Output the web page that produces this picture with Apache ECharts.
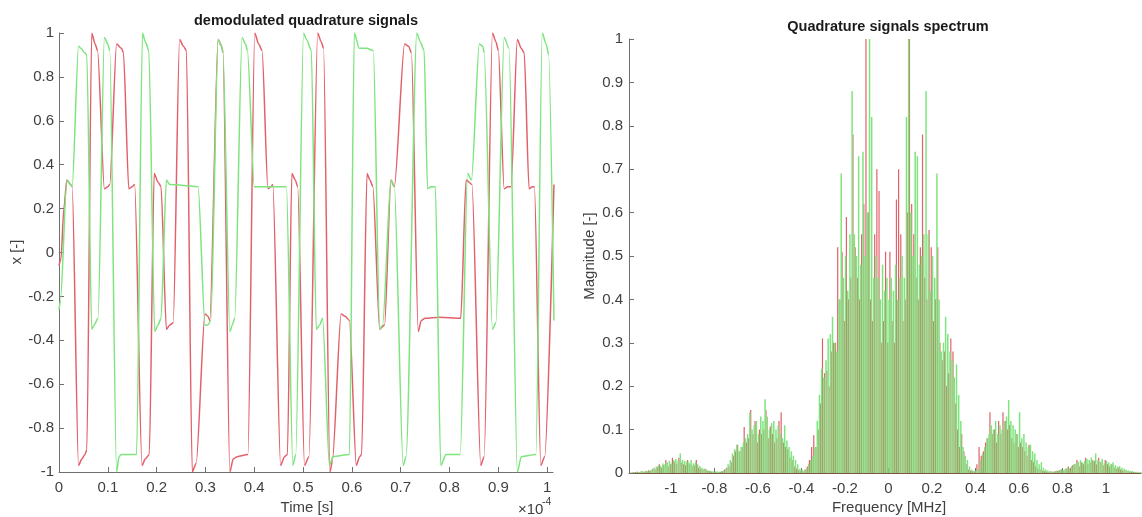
<!DOCTYPE html>
<html><head><meta charset="utf-8">
<script src="https://cdn.jsdelivr.net/npm/echarts@6/dist/echarts.min.js"></script>
<style>html,body{margin:0;padding:0;background:#fff}#c{width:1142px;height:517px}</style>
</head><body><div id="c"></div>
<script>
// ---------- Left chart: demodulated quadrature signals (time in units of 1e-4 s) ----------
const timeTicks = [0,0.1,0.2,0.3,0.4,0.5,0.6,0.7,0.8,0.9,1];
const ampTicks = [-1,-0.8,-0.6,-0.4,-0.2,0,0.2,0.4,0.6,0.8,1];

const redSignal = [
 [0.000,-0.06],[0.004,-0.03],[0.010,0.20],[0.016,0.33],[0.024,0.31],[0.027,0.30],
 [0.040,-0.97],[0.047,-0.94],[0.053,-0.92],[0.057,-0.90],
 [0.067,1.00],[0.074,0.95],[0.079,0.92],
 [0.093,0.29],[0.100,0.30],[0.104,0.31],
 [0.118,0.95],[0.128,0.93],[0.132,0.91],
 [0.143,0.29],[0.150,0.30],[0.155,0.31],
 [0.170,-0.97],[0.177,-0.94],[0.185,-0.92],
 [0.195,0.36],[0.203,0.32],[0.209,0.30],
 [0.220,-0.35],[0.227,-0.33],[0.234,-0.32],
 [0.247,0.97],[0.255,0.94],[0.261,0.92],
 [0.273,-1.00],[0.281,-0.96],
 [0.299,-0.28],[0.305,-0.29],[0.309,-0.31],
 [0.326,0.97],[0.333,0.94],[0.336,0.91],
 [0.350,-1.00],[0.357,-0.94],[0.365,-0.93],[0.387,-0.92],
 [0.401,1.00],[0.409,0.95],[0.416,0.92],
 [0.428,0.29],[0.434,0.30],[0.438,0.31],
 [0.454,-0.97],[0.462,-0.93],[0.468,-0.92],
 [0.477,0.36],[0.484,0.33],[0.489,0.30],
 [0.503,-0.97],[0.512,-0.93],
 [0.530,1.00],[0.537,0.96],[0.542,0.93],
 [0.555,-1.00],[0.560,-0.95],
 [0.578,-0.28],[0.586,-0.29],[0.595,-0.31],
 [0.609,-0.97],[0.616,-0.93],[0.620,-0.92],
 [0.631,0.36],[0.637,0.33],[0.643,0.30],
 [0.657,-0.35],[0.667,-0.33],
 [0.680,0.33],[0.687,0.30],
 [0.708,0.95],[0.716,0.94],[0.722,0.91],
 [0.736,-0.36],[0.742,-0.31],[0.750,-0.30],[0.780,-0.295],[0.823,-0.30],
 [0.834,0.33],[0.846,0.31],
 [0.864,-0.97],[0.871,-0.93],
 [0.888,1.00],[0.895,0.96],[0.900,0.92],
 [0.912,0.29],[0.919,0.30],[0.926,0.30],
 [0.939,0.97],[0.947,0.93],[0.953,0.91],
 [0.963,0.29],[0.970,0.30],[0.974,0.30],
 [0.987,-0.97],[0.995,-0.93],
 [1.014,0.31]
];

const greenSignal = [
 [0.000,-0.26],[0.003,-0.22],[0.016,0.33],[0.024,0.31],[0.027,0.30],
 [0.040,0.94],[0.045,0.93],[0.053,0.91],[0.057,0.90],
 [0.067,-0.35],[0.072,-0.33],[0.080,-0.30],
 [0.093,0.98],[0.100,0.95],[0.104,0.92],
 [0.118,-1.00],[0.123,-0.93],[0.128,-0.92],[0.159,-0.92],
 [0.171,1.00],[0.177,0.96],[0.184,0.92],
 [0.196,-0.36],[0.203,-0.33],[0.209,-0.30],
 [0.220,0.33],[0.227,0.31],[0.285,0.30],
 [0.299,-0.33],[0.305,-0.33],[0.311,-0.31],
 [0.326,0.97],[0.333,0.94],[0.336,0.91],
 [0.350,-0.36],[0.355,-0.33],[0.360,-0.30],
 [0.375,0.98],[0.382,0.95],[0.386,0.92],
 [0.400,0.30],[0.466,0.30],
 [0.479,-0.97],[0.485,-0.92],
 [0.501,1.00],[0.507,0.97],[0.517,0.92],
 [0.527,-0.35],[0.534,-0.33],[0.540,-0.30],
 [0.554,-0.97],[0.561,-0.93],[0.595,-0.92],
 [0.605,1.00],[0.615,0.93],[0.630,0.93],[0.644,0.92],
 [0.657,-0.35],[0.663,-0.33],
 [0.680,0.33],[0.687,0.30],
 [0.705,-0.97],[0.711,-0.93],
 [0.733,1.00],[0.740,0.96],[0.748,0.92],
 [0.755,0.29],[0.762,0.30],[0.771,0.30],
 [0.782,-0.97],[0.793,-0.92],[0.822,-0.92],
 [0.837,0.36],[0.845,0.33],
 [0.861,0.95],[0.868,0.94],[0.871,0.91],
 [0.888,-0.35],[0.895,-0.32],
 [0.912,0.98],[0.922,0.93],
 [0.939,-1.00],[0.947,-0.93],[0.977,-0.92],
 [0.990,1.00],[0.998,0.95],[1.003,0.90],
 [1.014,-0.31]
];

// ---------- Right chart: spectrum (bins from -1.18 MHz, step 0.01 MHz) ----------
const freqTicks = [-1,-0.8,-0.6,-0.4,-0.2,0,0.2,0.4,0.6,0.8,1];
const magTicks = [0,0.1,0.2,0.3,0.4,0.5,0.6,0.7,0.8,0.9,1];
const firstBinMHz = -1.18;
const binStepMHz = 0.01;

const greenMag = [
 0.002,0.002,0.003,0.002,0.004,0.003,0.005,0.004,0.006,0.008,
 0.012,0.015,0.018,0.016,0.022,0.020,0.025,0.028,0.022,0.030,
 0.032,0.028,0.045,0.030,0.028,0.026,0.024,0.030,0.022,0.025,
 0.020,0.016,0.012,0.010,0.008,0.006,0.005,0.004,0.003,0.004,
 0.003,0.004,0.006,0.010,0.020,0.030,0.045,0.055,0.065,0.050,
 0.060,0.070,0.080,0.090,0.140,0.100,0.110,0.120,0.090,0.130,
 0.120,0.170,0.130,0.100,0.115,0.120,0.100,0.110,0.090,0.080,
 0.110,0.075,0.060,0.050,0.040,0.030,0.020,0.010,0.008,0.006,
 0.010,0.020,0.030,0.040,0.060,0.120,0.180,0.240,0.220,0.260,
 0.310,0.320,0.360,0.300,0.280,0.400,0.690,0.450,0.500,0.420,
 0.550,0.880,0.550,0.500,0.730,0.480,0.740,0.500,0.600,1.000,
 0.820,0.450,0.500,0.450,0.400,0.480,0.420,0.450,0.400,0.450,
 0.420,0.480,0.400,0.450,0.500,0.450,0.820,1.000,0.600,0.500,
 0.740,0.730,0.480,0.500,0.550,0.880,0.550,0.420,0.500,0.450,
 0.690,0.400,0.280,0.300,0.360,0.320,0.280,0.260,0.220,0.250,
 0.180,0.120,0.060,0.040,0.030,0.015,0.008,0.005,0.006,0.010,
 0.030,0.045,0.060,0.080,0.090,0.110,0.100,0.120,0.090,0.110,
 0.100,0.120,0.130,0.168,0.120,0.110,0.100,0.090,0.140,0.080,
 0.090,0.070,0.060,0.065,0.050,0.045,0.030,0.020,0.025,0.012,
 0.008,0.006,0.004,0.003,0.004,0.005,0.006,0.008,0.006,0.010,
 0.012,0.010,0.016,0.020,0.022,0.026,0.030,0.024,0.028,0.032,
 0.030,0.036,0.028,0.045,0.030,0.026,0.032,0.022,0.028,0.024,
 0.020,0.025,0.018,0.015,0.016,0.012,0.010,0.008,0.006,0.005,
 0.004,0.003,0.003,0.002,0.002
];

const redMag = [
 0.001,0.002,0.002,0.003,0.002,0.004,0.003,0.004,0.006,0.005,
 0.010,0.008,0.014,0.020,0.012,0.018,0.030,0.015,0.020,0.035,
 0.025,0.020,0.035,0.024,0.020,0.018,0.030,0.020,0.015,0.018,
 0.030,0.012,0.010,0.008,0.010,0.005,0.004,0.003,0.002,0.003,
 0.002,0.003,0.004,0.008,0.012,0.015,0.025,0.040,0.050,0.065,
 0.050,0.060,0.106,0.070,0.080,0.145,0.090,0.120,0.070,0.100,
 0.090,0.100,0.145,0.080,0.107,0.090,0.070,0.080,0.120,0.140,
 0.070,0.060,0.055,0.035,0.030,0.015,0.010,0.006,0.005,0.004,
 0.008,0.015,0.030,0.060,0.087,0.060,0.100,0.160,0.310,0.230,
 0.235,0.200,0.280,0.300,0.300,0.520,0.400,0.510,0.350,0.590,
 0.400,0.450,0.780,0.520,0.450,0.400,0.550,0.620,1.000,0.600,
 0.400,0.350,0.550,0.700,0.650,0.300,0.350,0.510,0.300,0.510,
 0.350,0.300,0.630,0.700,0.550,0.350,0.400,0.600,1.000,0.620,
 0.550,0.450,0.400,0.520,0.780,0.450,0.400,0.560,0.520,0.350,
 0.400,0.520,0.300,0.260,0.280,0.200,0.230,0.310,0.280,0.160,
 0.100,0.060,0.090,0.050,0.020,0.008,0.005,0.004,0.003,0.020,
 0.060,0.040,0.050,0.070,0.080,0.140,0.090,0.100,0.070,0.120,
 0.090,0.140,0.120,0.100,0.110,0.080,0.070,0.090,0.060,0.070,
 0.060,0.050,0.040,0.065,0.030,0.025,0.015,0.010,0.008,0.006,
 0.004,0.003,0.002,0.004,0.003,0.004,0.005,0.006,0.008,0.006,
 0.010,0.015,0.012,0.018,0.020,0.030,0.015,0.025,0.020,0.035,
 0.020,0.025,0.030,0.028,0.020,0.035,0.025,0.018,0.030,0.020,
 0.015,0.020,0.012,0.010,0.012,0.008,0.006,0.005,0.004,0.003,
 0.003,0.002,0.002,0.001,0.001
];

// ---------- build ----------
const freqMHz = greenMag.map((_, i) => +(firstBinMHz + i * binStepMHz).toFixed(3));
const redPairs = redMag.map((v, i) => [freqMHz[i], v]);
const greenPairs = greenMag.map((v, i) => [freqMHz[i], v]);

const FONT = "'Liberation Sans', Arial, sans-serif";
const AXIS_COLOR = '#707070';
const LABEL_COLOR = '#404040';
const RED = '#e2606a';
const GREEN = '#7ee47e';
const fmt1 = v => { const r = Math.round(v * 10) / 10; return Math.abs(r - v) < 1e-6 ? String(r) : ''; };

const axisCommon = (ticks, margin) => ({
  axisLine: { show: true, onZero: false, lineStyle: { color: AXIS_COLOR, width: 1 } },
  axisTick: { show: true, inside: true, length: 5, customValues: ticks, lineStyle: { color: AXIS_COLOR } },
  axisLabel: { customValues: ticks, formatter: fmt1, fontSize: 15, fontFamily: FONT, color: LABEL_COLOR, margin: margin },
  splitLine: { show: false }
});

const chart = echarts.init(document.getElementById('c'), null, { renderer: 'canvas' });
chart.setOption({
  backgroundColor: '#ffffff',
  animation: false,
  grid: [
    { left: 59, top: 33, width: 494, height: 439 },
    { left: 629, top: 39, width: 512, height: 434 }
  ],
  xAxis: [
    Object.assign({ gridIndex: 0, type: 'value', min: 0, max: 1.012 }, axisCommon(timeTicks, 8)),
    Object.assign({ gridIndex: 1, type: 'value', min: -1.193, max: 1.161 }, axisCommon(freqTicks, 8),
      { axisLine: { show: true, onZero: false, lineStyle: { color: '#7a5448', width: 1 } } })
  ],
  yAxis: [
    Object.assign({ gridIndex: 0, type: 'value', min: -1, max: 1, interval: 0.2 }, axisCommon(ampTicks, 5)),
    Object.assign({ gridIndex: 1, type: 'value', min: 0, max: 1, interval: 0.1 }, axisCommon(magTicks, 6))
  ],
  series: [
    { type: 'line', xAxisIndex: 0, yAxisIndex: 0, data: redSignal, showSymbol: false, symbol: 'none',
      smooth: 0.25, smoothMonotone: 'x', lineStyle: { color: RED, width: 1.5 }, clip: true },
    { type: 'line', xAxisIndex: 0, yAxisIndex: 0, data: greenSignal, showSymbol: false, symbol: 'none',
      smooth: 0.25, smoothMonotone: 'x', lineStyle: { color: GREEN, width: 1.5 }, clip: true },
    { type: 'bar', xAxisIndex: 1, yAxisIndex: 1, data: redPairs, barWidth: 1.2, barGap: '0%',
      itemStyle: { color: RED } },
    { type: 'bar', xAxisIndex: 1, yAxisIndex: 1, data: greenPairs, barWidth: 1.5, barGap: '0%',
      itemStyle: { color: GREEN } }
  ],
  graphic: [
    { type: 'text', x: 306, y: 21, style: { text: 'demodulated quadrature signals', fontSize: 14.5, fontWeight: 'bold', fontFamily: FONT, fill: '#1a1a1a', textAlign: 'center', textVerticalAlign: 'middle', verticalAlign: 'middle' } },
    { type: 'text', x: 888, y: 27, style: { text: 'Quadrature signals spectrum', fontSize: 14.5, fontWeight: 'bold', fontFamily: FONT, fill: '#1a1a1a', textAlign: 'center', textVerticalAlign: 'middle', verticalAlign: 'middle' } },
    { type: 'text', x: 307, y: 508, style: { text: 'Time [s]', fontSize: 15, fontFamily: FONT, fill: LABEL_COLOR, textAlign: 'center', textVerticalAlign: 'middle', verticalAlign: 'middle' } },
    { type: 'text', x: 889, y: 508, style: { text: 'Frequency [MHz]', fontSize: 15, fontFamily: FONT, fill: LABEL_COLOR, textAlign: 'center', textVerticalAlign: 'middle', verticalAlign: 'middle' } },
    { type: 'text', x: 17, y: 252, rotation: Math.PI / 2, style: { text: 'x [-]', fontSize: 15, fontFamily: FONT, fill: LABEL_COLOR, textAlign: 'center', textVerticalAlign: 'middle', verticalAlign: 'middle' } },
    { type: 'text', x: 590, y: 256, rotation: Math.PI / 2, style: { text: 'Magnitude [-]', fontSize: 15, fontFamily: FONT, fill: LABEL_COLOR, textAlign: 'center', textVerticalAlign: 'middle', verticalAlign: 'middle' } },
    { type: 'text', x: 518, y: 510, style: { text: '×10', fontSize: 15, fontFamily: FONT, fill: LABEL_COLOR, textAlign: 'left', textVerticalAlign: 'middle', verticalAlign: 'middle' } },
    { type: 'text', x: 542, y: 502, style: { text: '-4', fontSize: 10.5, fontFamily: FONT, fill: LABEL_COLOR, textAlign: 'left', textVerticalAlign: 'middle', verticalAlign: 'middle' } }
  ]
});
</script>
</body></html>
